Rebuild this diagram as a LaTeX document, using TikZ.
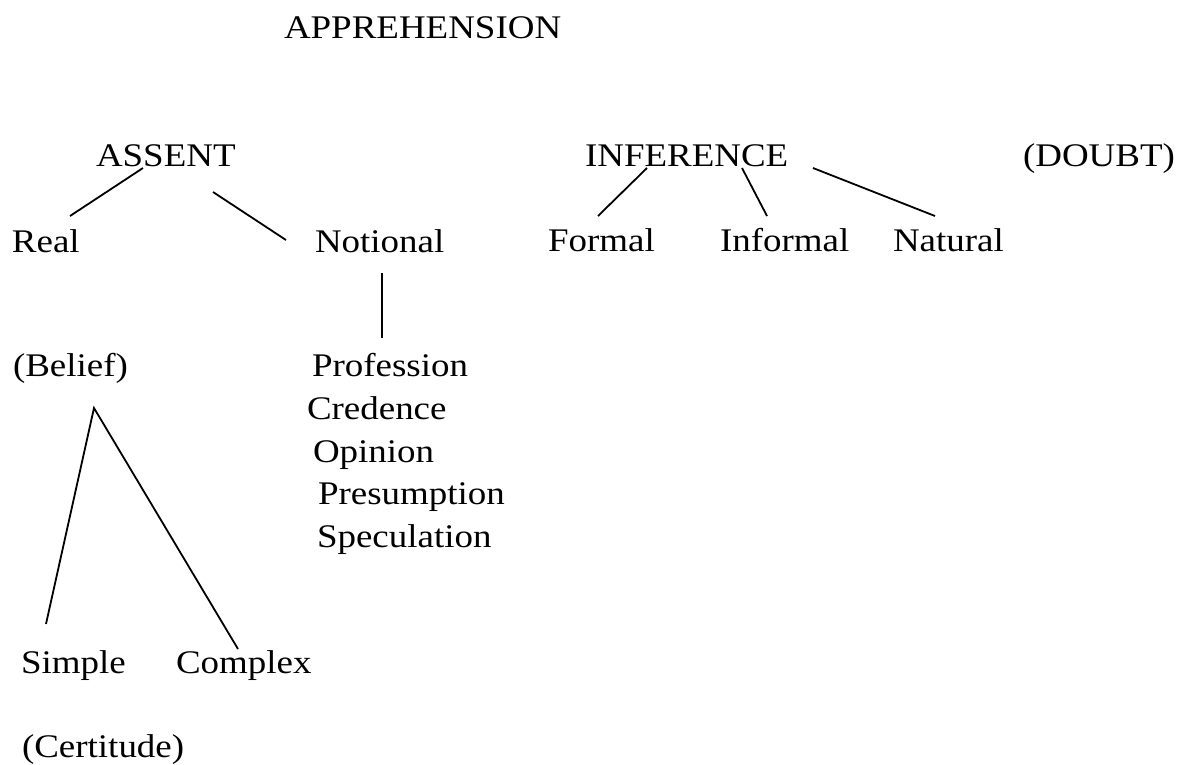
\documentclass[tikz,border=0pt]{standalone}
\usepackage{fontspec}
\setmainfont{Liberation Serif}[FakeStretch=1.12]
\begin{document}
\begin{tikzpicture}[x=1pt,y=-1pt,
  lbl/.style={anchor=base west,inner sep=0pt,outer sep=0pt,font=\fontsize{33}{38}\selectfont},
  conn/.style={line width=1.8pt}]
\useasboundingbox (0,0) rectangle (1202,764);
\node[lbl] (appr) at (284,38) {APPREHENSION};
\node[lbl] (assent) at (96,166) {ASSENT};
\node[lbl] (infer) at (585,166) {INFERENCE};
\node[lbl] (doubt) at (1023,166) {(DOUBT)};
\node[lbl] (real) at (12,252) {Real};
\node[lbl] (notional) at (315,252) {Notional};
\node[lbl] (formal) at (548,251) {Formal};
\node[lbl] (informal) at (720,251) {Informal};
\node[lbl] (natural) at (893,251) {Natural};
\node[lbl] (belief) at (13,376) {(Belief)};
\node[lbl] (profession) at (312,376) {Profession};
\node[lbl] (credence) at (307,419) {Credence};
\node[lbl] (opinion) at (313,462) {Opinion};
\node[lbl] (presumption) at (318,504) {Presumption};
\node[lbl] (speculation) at (317,547) {Speculation};
\node[lbl] (simple) at (21,673) {Simple};
\node[lbl] (complex) at (176,673) {Complex};
\node[lbl] (certitude) at (22,757) {(Certitude)};
% connector end points
\coordinate (a1) at (143,168); \coordinate (r1) at (70,216);
\coordinate (a2) at (213,192); \coordinate (n1) at (286,240);
\coordinate (n2) at (382,273); \coordinate (p1) at (382,338);
\coordinate (i1) at (647,168); \coordinate (f1) at (598,216);
\coordinate (i2) at (742,168); \coordinate (f2) at (767,216);
\coordinate (i3) at (813,168); \coordinate (f3) at (935,216);
\coordinate (apex) at (94,408);
\coordinate (s1) at (46,624); \coordinate (c1) at (238,649);
\draw[conn] (a1) -- (r1);
\draw[conn] (a2) -- (n1);
\draw[conn] (n2) -- (p1);
\draw[conn] (i1) -- (f1);
\draw[conn] (i2) -- (f2);
\draw[conn] (i3) -- (f3);
\draw[conn] (s1) -- (apex) -- (c1);
\end{tikzpicture}
\end{document}
